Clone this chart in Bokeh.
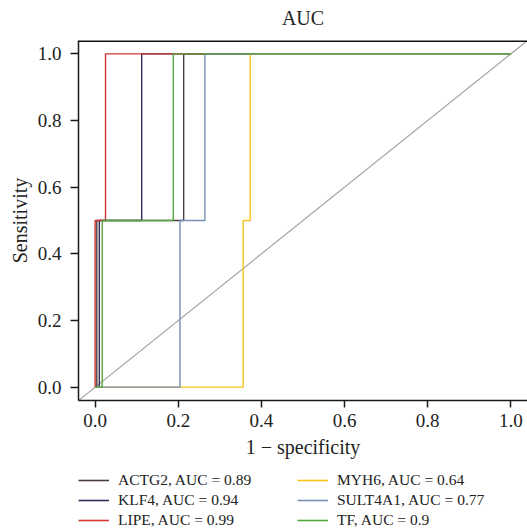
from bokeh.plotting import figure
from bokeh.layouts import column
from bokeh.models import Range1d, Legend, LegendItem, Span, FixedTicker, CustomJSTickFormatter, Label
from bokeh.embed import file_html
from bokeh.resources import INLINE

# ROC curve data (1 - specificity, sensitivity)
genes = ["ACTG2", "KLF4", "LIPE", "MYH6", "SULT4A1", "TF"]
auc_values = ["0.89", "0.94", "0.99", "0.64", "0.77", "0.9"]
colors = ["#4b3d3d", "#2e2d5c", "#d1362f", "#f7c41b", "#7590b5", "#53a83e"]

actg2_fpr = [0.0, 0.004, 0.004, 0.213, 0.213, 1.0]
actg2_tpr = [0.0, 0.0, 0.5, 0.5, 1.0, 1.0]
klf4_fpr = [0.0, 0.01, 0.01, 0.112, 0.112, 1.0]
klf4_tpr = [0.0, 0.0, 0.5, 0.5, 1.0, 1.0]
lipe_fpr = [0.0, 0.0, 0.025, 0.025, 1.0]
lipe_tpr = [0.0, 0.5, 0.5, 1.0, 1.0]
myh6_fpr = [0.0, 0.356, 0.356, 0.373, 0.373, 1.0]
myh6_tpr = [0.0, 0.0, 0.5, 0.5, 1.0, 1.0]
sult4a1_fpr = [0.0, 0.204, 0.204, 0.264, 0.264, 1.0]
sult4a1_tpr = [0.0, 0.0, 0.5, 0.5, 1.0, 1.0]
tf_fpr = [0.0, 0.017, 0.017, 0.188, 0.188, 1.0]
tf_tpr = [0.0, 0.0, 0.5, 0.5, 1.0, 1.0]

curves_fpr = [actg2_fpr, klf4_fpr, lipe_fpr, myh6_fpr, sult4a1_fpr, tf_fpr]
curves_tpr = [actg2_tpr, klf4_tpr, lipe_tpr, myh6_tpr, sult4a1_tpr, tf_tpr]

diag = [-0.1, 1.2]
ticks = [0.0, 0.2, 0.4, 0.6, 0.8, 1.0]
title_text = "AUC"

FONT = "Liberation Serif"

# ---- title strip (its own small figure, frame aligned with the plot) ----
tp = figure(width=527, height=39, output_backend="svg", toolbar_location=None,
            x_axis_type=None, y_axis_type=None,
            x_range=Range1d(-0.04, 1.04), y_range=Range1d(0, 39),
            min_border_left=0, min_border_right=0, min_border_top=0, min_border_bottom=0)
tp.grid.visible = False
tp.outline_line_color = None
tp.background_fill_color = "white"
tp.border_fill_color = "white"
tp.add_layout(Label(x=0.5, y=22, text=title_text, text_align="center",
                    text_baseline="middle", text_font=FONT, text_font_size="20px",
                    text_color="#222222"))

# ---- main ROC plot ----
p = figure(width=527, height=431, output_backend="svg", toolbar_location=None,
           x_range=Range1d(-0.04, 1.04), y_range=Range1d(-0.04, 1.04),
           min_border_left=78, min_border_right=0, min_border_top=1,
           min_border_bottom=70)

p.grid.visible = False
p.outline_line_color = None
p.background_fill_color = "white"
p.border_fill_color = "white"

for ax in (p.xaxis[0], p.yaxis[0]):
    ax.ticker = FixedTicker(ticks=ticks)
    ax.axis_line_color = "#1a1a1a"
    ax.axis_line_width = 1.5
    ax.major_tick_line_color = "#1a1a1a"
    ax.major_tick_line_width = 1.5
    ax.major_tick_in = 0
    ax.minor_tick_line_color = None
    ax.major_label_text_font = FONT
    ax.major_label_text_font_size = "19px"
    ax.major_label_text_color = "#222222"
    ax.axis_label_text_font = FONT
    ax.axis_label_text_font_size = "20px"
    ax.axis_label_text_font_style = "normal"
    ax.axis_label_text_color = "#222222"

fmt = CustomJSTickFormatter(code="return tick.toFixed(1);")
p.xaxis[0].formatter = fmt
p.yaxis[0].formatter = fmt
p.xaxis[0].major_tick_out = 7
p.xaxis[0].major_label_standoff = 6
p.xaxis[0].axis_label = "1 \u2212 specificity"
p.xaxis[0].axis_label_standoff = 6
p.yaxis[0].major_tick_out = 8
p.yaxis[0].major_label_standoff = 9
p.yaxis[0].axis_label = "Sensitivity"
p.yaxis[0].axis_label_standoff = 4

# top border line of the box
p.add_layout(Span(location=1.04, dimension="width", line_color="#111111", line_width=3))

# diagonal reference
p.line(diag, diag, line_color="#a8a29e", line_width=1.2)

for fx, fy, c in zip(curves_fpr, curves_tpr, colors):
    p.line(fx, fy, line_color=c, line_width=1.4)

# ---- legend strip (separate figure so the legend is not clipped by the plot frame);
# the curves are drawn again here, outside the visible range, only to feed the legend
lp = figure(width=527, height=60, output_backend="svg", toolbar_location=None,
            x_axis_type=None, y_axis_type=None,
            x_range=Range1d(10, 11), y_range=Range1d(10, 11),
            min_border_left=0, min_border_right=0, min_border_top=0, min_border_bottom=0)
lp.grid.visible = False
lp.outline_line_color = None
lp.background_fill_color = "white"
lp.border_fill_color = "white"

legend_renderers = [lp.line(fx, fy, line_color=c, line_width=1.6)
                    for fx, fy, c in zip(curves_fpr, curves_tpr, colors)]
labels = [f"{g}, AUC = {a}" for g, a in zip(genes, auc_values)]

def make_legend(idx, x):
    items = [LegendItem(label=labels[i], renderers=[legend_renderers[i]]) for i in idx]
    return Legend(items=items, location=(x, 0), orientation="vertical",
                  glyph_width=31, glyph_height=20, label_height=20,
                  label_standoff=9, spacing=0, padding=0, margin=0,
                  border_line_color=None, background_fill_alpha=0,
                  label_text_font=FONT, label_text_font_size="15.5px",
                  label_text_color="#222222")

lp.add_layout(make_legend([0, 1, 2], 0))
lp.add_layout(make_legend([3, 4, 5], 219))

layout = column(tp, p, lp, spacing=0)
open("out.html", "w").write(file_html(layout, INLINE))
